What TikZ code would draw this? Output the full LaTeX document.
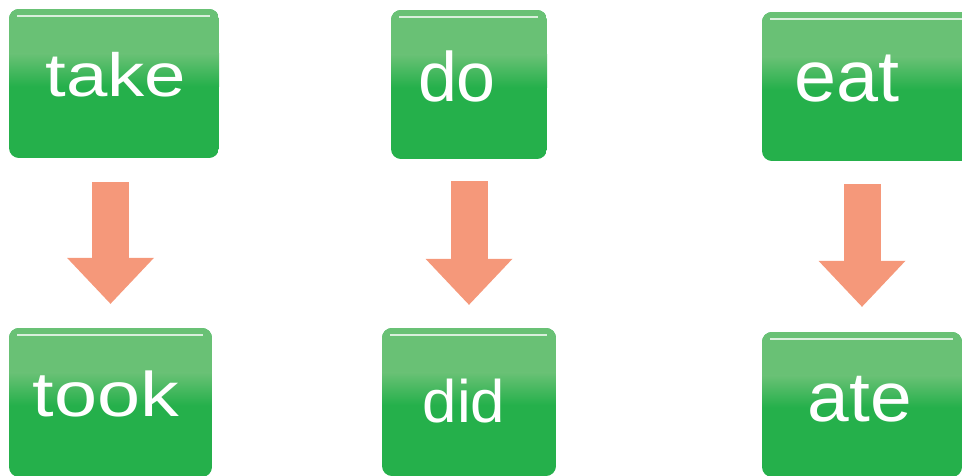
\documentclass[tikz,border=0pt]{standalone}
\usepackage{fontspec}
\setmainfont{Liberation Sans}
\usetikzlibrary{calc,arrows.meta}
\definecolor{gdark}{HTML}{25B04B}
\definecolor{glight}{HTML}{69C175}
\definecolor{arrowc}{HTML}{F5987A}
\tikzset{
  gbox/.style={rectangle, rounded corners=10pt, inner sep=0pt,
    path picture={
      \fill[sharp corners, gdark] (path picture bounding box.south west) rectangle (path picture bounding box.north east);
      \fill[sharp corners, glight] (path picture bounding box.north west) rectangle ($(path picture bounding box.north east)!0.33!(path picture bounding box.south east)$);
      \shade[sharp corners, top color=glight,bottom color=gdark] ($(path picture bounding box.north west)!0.3!(path picture bounding box.south west)$) rectangle ($(path picture bounding box.north east)!0.52!(path picture bounding box.south east)$);
      \draw[sharp corners, white, opacity=0.75, line width=1.3pt] ([xshift=8pt,yshift=-7pt]path picture bounding box.north west) -- ([xshift=-9pt,yshift=-7pt]path picture bounding box.north east);
    }},
  wtext/.style={text=white, inner sep=0pt, anchor=base},
  arr/.style={draw=arrowc, line width=37pt, -{Triangle[width=87pt,length=46pt,line width=0pt]}}
}
\newcommand{\gboxat}[5]{%
  \node[gbox, minimum width={#4-#2}, minimum height={#5-#3}] (#1) at ({(#2+#4)/2},{(#3+#5)/2}) {};}
\begin{document}
\begin{tikzpicture}[x=1pt,y=-1pt]
\useasboundingbox (0,0) rectangle (962,475);
% boxes
\gboxat{take}{9}{9}{219}{158}
\gboxat{do}{391}{10}{547}{159}
\gboxat{eat}{762}{12}{975}{161}
\gboxat{took}{9}{328}{212}{477}
\gboxat{did}{382}{328}{556}{476}
\gboxat{ate}{762}{332}{962}{477}
% texts
\node[wtext] (ttake) at (116,96) {\fontsize{61}{61}\selectfont\scalebox{1.22}[1]{take}};
\node[wtext] (ttook) at (106,416) {\fontsize{63}{63}\selectfont\scalebox{1.23}[1]{took}};
\node[wtext] (tdo) at (457,101) {\fontsize{70}{70}\selectfont do};
\node[wtext] (tdid) at (464,422) {\fontsize{60}{60}\selectfont\scalebox{1.03}[1]{did}};
\node[wtext] (teat) at (847,101) {\fontsize{72}{72}\selectfont\scalebox{1.05}[1]{eat}};
\node[wtext] (tate) at (860,421) {\fontsize{70}{70}\selectfont\scalebox{1.07}[1]{ate}};
% arrows
\coordinate (a1) at (take.south -| took.north);
\coordinate (a2) at (do.south -| did.north);
\coordinate (a3) at (eat.south -| ate.north);
\draw[arr] ([yshift=-24pt]a1) -- ([yshift=24pt]took.north);
\draw[arr] ([yshift=-22pt]a2) -- ([yshift=23pt]did.north);
\draw[arr] ([yshift=-23pt]a3) -- ([yshift=25pt]ate.north);
\end{tikzpicture}
\end{document}
